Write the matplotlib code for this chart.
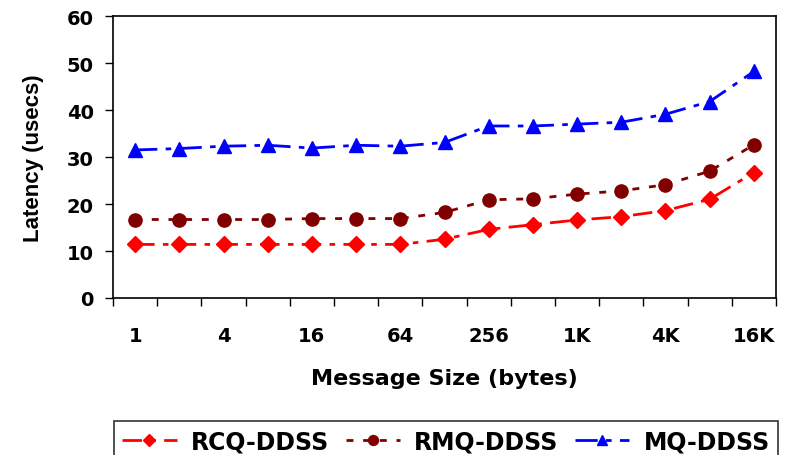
import matplotlib
matplotlib.use("Agg")
from matplotlib import pyplot as plt
from matplotlib.ticker import FixedLocator

plt.rcParams['font.family'] = ['DejaVu Sans']
plt.rcParams['font.weight'] = 'bold'

# message sizes 1 .. 16K bytes
sizes = ["1", "2", "4", "8", "16", "32", "64", "128", "256", "512",
         "1K", "2K", "4K", "8K", "16K"]
rcq_ddss = [11.4, 11.4, 11.4, 11.4, 11.4, 11.4, 11.4, 12.5, 14.6, 15.6,
            16.6, 17.3, 18.6, 21.0, 26.7]
rmq_ddss = [16.7, 16.7, 16.7, 16.7, 16.9, 16.9, 16.9, 18.2, 20.9, 21.1,
            22.1, 22.8, 24.1, 27.0, 32.6]
mq_ddss = [31.5, 31.8, 32.3, 32.5, 31.9, 32.5, 32.3, 33.1, 36.6, 36.6,
           37.0, 37.4, 39.1, 41.8, 48.2]

x = list(range(len(sizes)))

fig = plt.figure(figsize=(7.91, 4.56), dpi=100)
ax = fig.add_axes([0.1429, 0.3443, 0.981 - 0.1429, 0.9627 - 0.3443])

ax.plot(x, rcq_ddss, color='#ff0000', linestyle=(0, (7, 3, 2, 3)), linewidth=2,
        marker='D', markersize=8.5, label='RCQ-DDSS')
ax.plot(x, rmq_ddss, color='#800000', linestyle=(0, (2.5, 3.5)), linewidth=2,
        marker='o', markersize=9.5, label='RMQ-DDSS')
ax.plot(x, mq_ddss, color='#0000ff', linestyle=(0, (8, 3, 2, 3)), linewidth=2,
        marker='^', markersize=10, label='MQ-DDSS')

ax.set_xlim(-0.5, len(sizes) - 0.5)
ax.set_ylim(0, 60)
ax.set_yticks(range(0, 61, 10))

# labels on every other size, tick marks between categories
ax.set_xticks(x[::2])
ax.set_xticklabels(sizes[::2])
ax.xaxis.set_minor_locator(FixedLocator([i - 0.5 for i in range(len(sizes) + 1)]))
ax.tick_params(axis='x', which='major', length=0, pad=20, labelsize=14)
ax.tick_params(axis='x', which='minor', length=6, width=1, direction='out')
ax.tick_params(axis='y', length=6, width=1, direction='out', labelsize=14, pad=8)

for s in ax.spines.values():
    s.set_linewidth(1.2)

ax.set_xlabel("Message Size (bytes)", fontsize=16, fontweight='bold', labelpad=17)
ax.set_ylabel("Latency (usecs)", fontsize=16, fontweight='bold', labelpad=16,
              family=['Liberation Sans', 'DejaVu Sans'])

leg = fig.legend(loc='upper center', bbox_to_anchor=(446 / 791, 1 - 422 / 456),
                 ncol=3, fontsize=17, frameon=True, fancybox=False,
                 edgecolor='black', borderpad=0.35, handlelength=2.3,
                 handletextpad=0.6, columnspacing=0.7, borderaxespad=0,
                 markerscale=0.75)
leg.get_frame().set_linewidth(1.2)

fig.savefig("out.png", dpi=100)
